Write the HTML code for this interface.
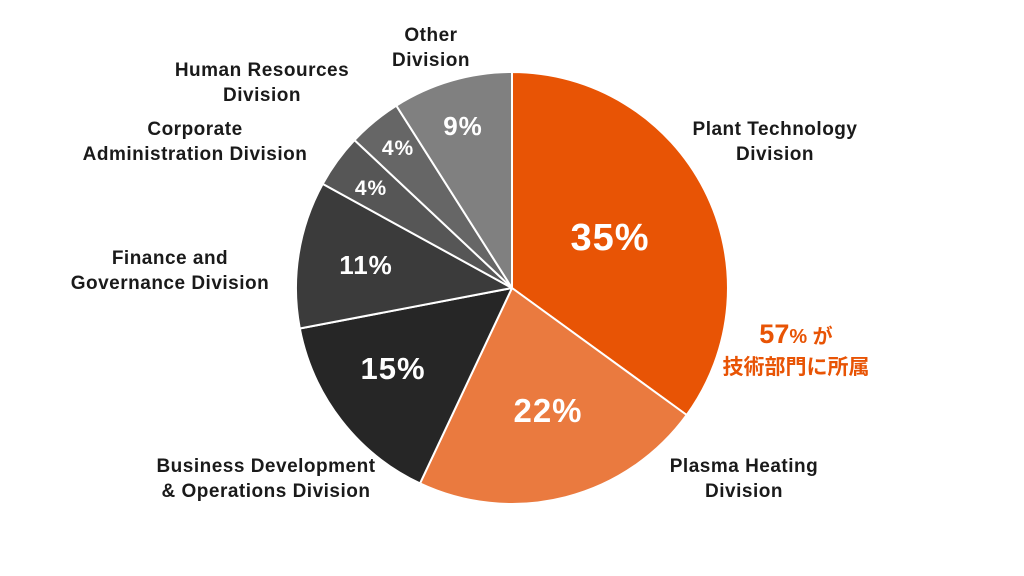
<!DOCTYPE html>
<html><head><meta charset="utf-8"><style>
html,body{margin:0;padding:0;background:#fff;}
svg{display:block}
text{font-family:"Liberation Sans","Noto Sans CJK JP",sans-serif;font-weight:bold;}
</style></head><body>
<svg width="1024" height="576" viewBox="0 0 1024 576" xmlns="http://www.w3.org/2000/svg">
<rect width="1024" height="576" fill="#fff"/>
<g stroke="#fff" stroke-width="2" stroke-linejoin="round">
<path d="M512,288 L512,72 A216,216 0 0,1 686.7,415 Z" fill="#E85405"/>
<path d="M512,288 L686.7,415 A216,216 0 0,1 420,483.4 Z" fill="#EA7A3F"/>
<path d="M512,288 L420,483.4 A216,216 0 0,1 299.8,328.5 Z" fill="#262626"/>
<path d="M512,288 L299.8,328.5 A216,216 0 0,1 322.7,183.9 Z" fill="#3B3B3B"/>
<path d="M512,288 L322.7,183.9 A216,216 0 0,1 354.5,140.1 Z" fill="#565656"/>
<path d="M512,288 L354.5,140.1 A216,216 0 0,1 396.3,105.6 Z" fill="#666666"/>
<path d="M512,288 L396.3,105.6 A216,216 0 0,1 512,72 Z" fill="#808080"/>
</g>
<g fill="#fff" text-anchor="middle" letter-spacing="1">
<text x="610" y="250" font-size="38">35%</text>
<text x="548" y="422" font-size="33">22%</text>
<text x="393" y="379" font-size="31">15%</text>
<text x="366" y="274" font-size="26">11%</text>
<text x="371" y="195" font-size="21">4%</text>
<text x="398" y="155" font-size="21">4%</text>
<text x="463" y="135" font-size="26">9%</text>
</g>
<g fill="#1a1a1a" font-size="19" text-anchor="middle" letter-spacing="0.5">
<text x="775" y="135">Plant Technology</text>
<text x="775" y="160">Division</text>
<text x="744" y="472">Plasma Heating</text>
<text x="744" y="497">Division</text>
<text x="266" y="472">Business Development</text>
<text x="266" y="497">&amp; Operations Division</text>
<text x="170" y="264">Finance and</text>
<text x="170" y="289">Governance Division</text>
<text x="195" y="135">Corporate</text>
<text x="195" y="160">Administration Division</text>
<text x="262" y="76">Human Resources</text>
<text x="262" y="101">Division</text>
<text x="431" y="41">Other</text>
<text x="431" y="66">Division</text>
</g>
<g fill="#E85405" text-anchor="middle">
<text x="796" y="343"><tspan font-size="27">57</tspan><tspan font-size="20">% が</tspan></text>
<text x="796" y="374" font-size="21">技術部門に所属</text>
</g>
</svg>
</body></html>
